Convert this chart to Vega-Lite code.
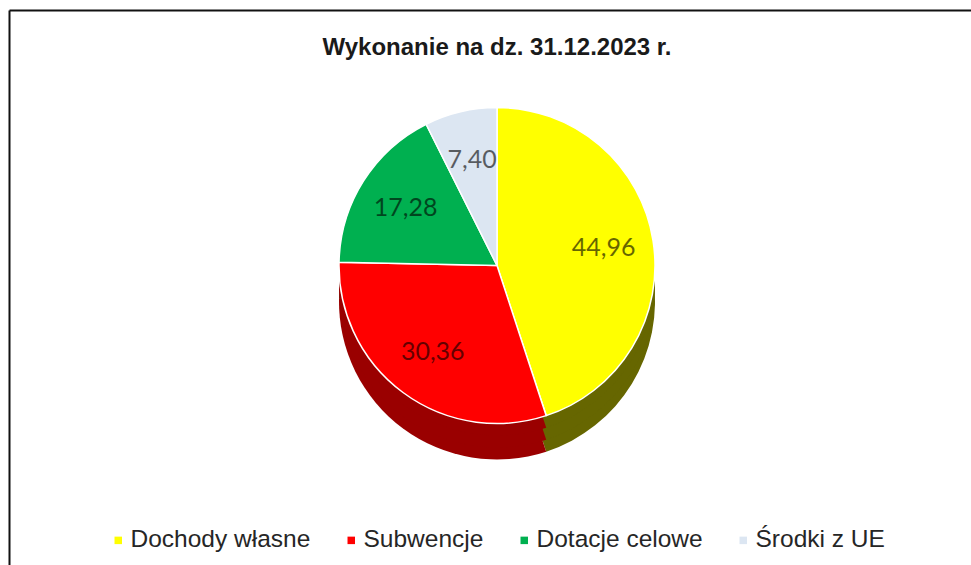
{
  "$schema": "https://vega.github.io/schema/vega-lite/v6.json",
  "width": 962,
  "height": 555,
  "autosize": {"type": "none"},
  "padding": {"left": 9, "top": 10, "right": 0, "bottom": 0},
  "background": "white",
  "title": {
    "text": "Wykonanie na dz. 31.12.2023 r.",
    "orient": "top",
    "anchor": "middle",
    "frame": "group",
    "offset": 0,
    "dx": 7,
    "dy": 69,
    "baseline": "alphabetic",
    "font": "Liberation Sans",
    "fontSize": 24,
    "fontWeight": "bold",
    "color": "#1a1a1a"
  },
  "data": {
    "values": [
      {"kategoria": "Dochody własne", "wartosc": 44.96, "kolejnosc": 1},
      {"kategoria": "Subwencje", "wartosc": 30.36, "kolejnosc": 2},
      {"kategoria": "Dotacje celowe", "wartosc": 17.28, "kolejnosc": 3},
      {"kategoria": "Środki z UE", "wartosc": 7.40, "kolejnosc": 4}
    ]
  },
  "layer": [
    {
      "mark": {"type": "point", "opacity": 0, "size": 0},
      "encoding": {
        "x": {"field": "kolejnosc", "type": "quantitative", "axis": {"orient": "top", "ticks": false, "labels": false, "grid": false, "title": null, "domainColor": "#111111", "domainWidth": 2}},
        "y": {"field": "wartosc", "type": "quantitative", "axis": {"orient": "left", "ticks": false, "labels": false, "grid": false, "title": null, "domainColor": "#111111", "domainWidth": 2}}
      }
    },
    {
      "encoding": {
        "theta": {"field": "wartosc", "type": "quantitative", "stack": true},
        "order": {"field": "kolejnosc", "type": "quantitative"}
      },
      "layer": [
        {
          "encoding": {
            "color": {
              "field": "kategoria",
              "type": "nominal",
              "scale": {
                "domain": ["Dochody własne", "Subwencje", "Dotacje celowe", "Środki z UE"],
                "range": ["#666600", "#9a0000", "#006a30", "#8a9aaa"]
              },
              "legend": null
            }
          },
          "layer": [
            {"mark": {"type": "arc", "outerRadius": 158, "xOffset": 7, "yOffset": 14, "strokeWidth": 0}},
            {"mark": {"type": "arc", "outerRadius": 158, "xOffset": 7, "yOffset": 2, "strokeWidth": 0}},
            {"mark": {"type": "arc", "outerRadius": 158, "xOffset": 7, "yOffset": -10, "strokeWidth": 0}}
          ]
        },
        {
          "mark": {"type": "arc", "outerRadius": 158, "xOffset": 7, "yOffset": -22, "stroke": "white", "strokeWidth": 1.5},
          "encoding": {
            "color": {
              "field": "kategoria",
              "type": "nominal",
              "scale": {
                "domain": ["Dochody własne", "Subwencje", "Dotacje celowe", "Środki z UE"],
                "range": ["#ffff00", "#ff0000", "#00b050", "#dce6f2"]
              },
              "legend": {
                "title": null,
                "orient": "none",
                "direction": "horizontal",
                "legendX": 97,
                "legendY": 518,
                "symbolType": "square",
                "symbolSize": 56,
                "symbolStrokeWidth": 0,
                "labelFont": "Liberation Sans",
                "labelFontSize": 24.5,
                "labelColor": "#262626",
                "labelOffset": 0,
                "columnPadding": 28,
                "labelLimit": 400
              }
            }
          }
        },
        {
          "mark": {"type": "text", "radius": 108, "xOffset": 7, "yOffset": -22, "font": "Lato", "fontSize": 25, "fill": "#000000", "opacity": 0.6},
          "encoding": {
            "text": {"field": "wartosc", "type": "quantitative", "format": ".2f"}
          }
        }
      ],
      "resolve": {"scale": {"color": "independent"}}
    }
  ],
  "config": {
    "locale": {"number": {"decimal": ",", "thousands": " ", "grouping": [3], "currency": ["", " zł"]}},
    "view": {"stroke": "transparent"}
  }
}
